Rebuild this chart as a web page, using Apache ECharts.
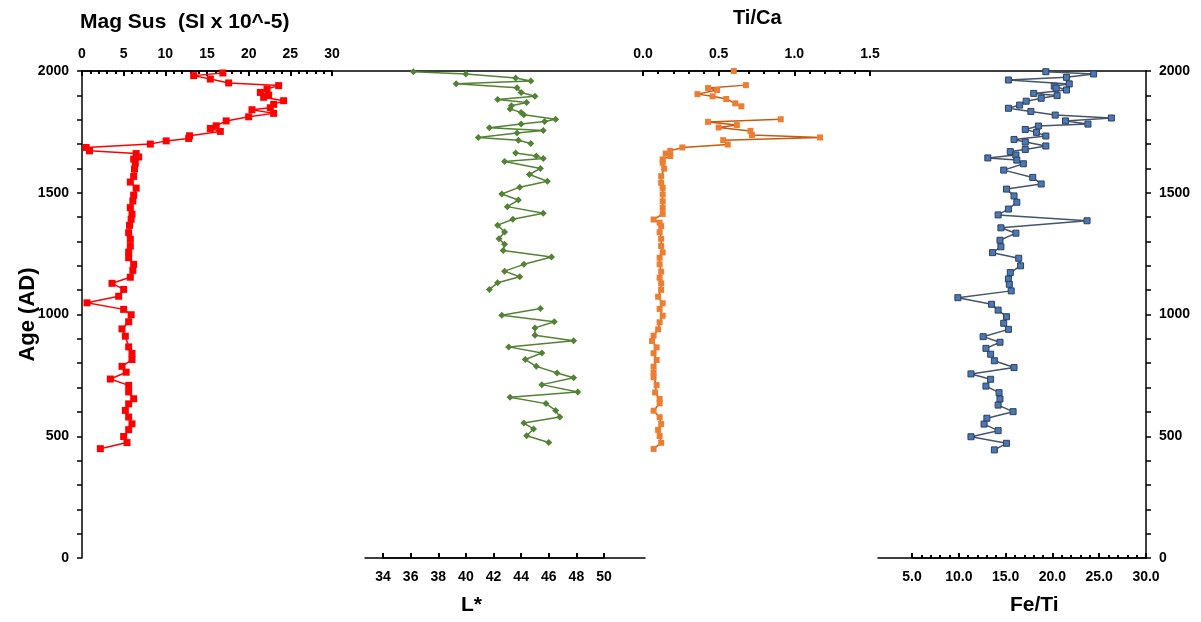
<!DOCTYPE html>
<html>
<head>
<meta charset="utf-8">
<script src="https://cdn.jsdelivr.net/npm/echarts@6/dist/echarts.min.js"></script>
<style>
  html, body { margin: 0; padding: 0; background: #fff; }
  #chart { width: 1201px; height: 622px; }
</style>
</head>
<body>
<div id="chart"></div>
<script>
// Mag Sus (SI x 10^-5) vs age (AD)
const magYear = [1992, 1981, 1967, 1951, 1940, 1926, 1912, 1901, 1892, 1878, 1863, 1849, 1841, 1826, 1812, 1795, 1775, 1764, 1752, 1734, 1723, 1713, 1700, 1686, 1672, 1661, 1647, 1638, 1621, 1597, 1567, 1544, 1519, 1490, 1466, 1439, 1412, 1391, 1366, 1336, 1309, 1281, 1256, 1233, 1206, 1181, 1153, 1128, 1103, 1075, 1048, 1021, 999, 970, 941, 911, 867, 840, 815, 787, 763, 735, 709, 682, 654, 633, 606, 579, 551, 527, 499, 474, 449];
const magValue = [16.9, 13.4, 15.4, 17.6, 23.6, 22.2, 21.4, 22.4, 21.8, 24.2, 23.0, 22.6, 20.4, 23.0, 20.0, 17.3, 16.1, 15.4, 16.6, 12.9, 12.8, 10.1, 8.2, 0.5, 0.9, 6.5, 6.8, 6.2, 6.4, 6.3, 6.2, 5.8, 6.5, 6.2, 6.1, 5.8, 6.0, 5.9, 5.7, 5.6, 5.8, 5.8, 5.6, 5.6, 6.2, 6.1, 5.8, 3.6, 5.0, 4.4, 0.6, 5.0, 5.9, 5.6, 4.8, 5.2, 5.6, 6.0, 6.0, 4.8, 5.3, 3.4, 5.6, 5.6, 6.2, 5.6, 5.2, 5.6, 6.0, 5.6, 5.0, 5.4, 2.2];

// L* (null = gap in the record)
const lYear = [1997, 1988, 1971, 1959, 1948, 1931, 1912, 1896, 1883, 1871, 1857, 1844, 1830, 1820, 1802, 1793, 1782, 1767, 1756, 1745, 1727, 1716, 1702, null,
  1663, 1651, 1641, 1628, 1600, 1575, 1547, 1523, 1495, 1470, 1443, 1416, 1391, 1367, 1339, 1311, 1288, 1263, 1236, 1206, 1178, 1155, 1130, 1103, null,
  1025, 997, 970, 945, 915, 892, 867, 842, 815, 787, 760, 740, 712, 682, 660, 634, 606, 579, 554, 530, 502, 474];
const lValue = [36.2, 40.0, 43.6, 44.7, 39.3, 43.7, 44.0, 45.0, 42.3, 44.4, 43.3, 43.2, 44.0, 44.2, 46.5, 45.7, 44.0, 41.7, 45.6, 43.7, 40.9, 43.8, 44.7, null,
  43.6, 45.1, 45.6, 42.8, 45.4, 44.6, 45.9, 43.9, 42.6, 43.8, 43.0, 45.6, 43.4, 42.3, 42.8, 42.4, 42.8, 42.7, 46.2, 44.2, 42.8, 43.9, 42.3, 41.7, null,
  45.4, 42.6, 46.4, 45.0, 45.0, 47.8, 43.1, 45.5, 44.3, 45.1, 46.6, 47.8, 45.5, 48.1, 43.2, 45.8, 46.5, 46.8, 44.2, 44.9, 44.4, 46.0];

// Ti/Ca
const tiYear = [2000, null, 1942, 1930, 1922, 1905, 1896, 1885, 1867, 1855, null, 1802, 1791, 1778, 1768, 1754, 1737, 1727, 1716, 1698, 1686, 1672, 1661, 1651, 1637, 1623, 1599, 1568, 1541, 1520, 1493, 1465, 1438, 1413, 1390, 1377, 1363, 1338, 1311, 1281, 1255, 1233, 1206, 1176, 1151, 1128, 1101, 1073, 1046, 1023, 995, 968, 939, 913, 891, 865, 841, 813, 786, 761, 742, 710, 680, 653, 635, 605, 578, 550, 526, 501, 473, 448];
const tiValue = [0.60, null, 0.68, 0.43, 0.49, 0.36, 0.46, 0.55, 0.61, 0.65, null, 0.91, 0.43, 0.62, 0.50, 0.71, 0.72, 1.17, 0.53, 0.56, 0.26, 0.18, 0.15, 0.18, 0.13, 0.13, 0.14, 0.12, 0.12, 0.13, 0.13, 0.13, 0.13, 0.13, 0.07, 0.11, 0.12, 0.11, 0.12, 0.12, 0.13, 0.11, 0.11, 0.12, 0.11, 0.12, 0.12, 0.10, 0.13, 0.11, 0.13, 0.11, 0.10, 0.07, 0.06, 0.09, 0.07, 0.09, 0.07, 0.07, 0.07, 0.09, 0.08, 0.11, 0.11, 0.07, 0.11, 0.12, 0.10, 0.11, 0.12, 0.07];

// Fe/Ti
const feYear = [1997, 1988, 1974, 1963, 1947, 1938, 1930, 1922, 1908, 1899, 1888, 1876, 1860, 1847, 1834, 1819, 1807, 1795, 1782, 1774, 1760, 1748, 1733, 1719, 1708, 1692, 1678, 1669, 1655, 1643, 1634, 1619, 1593, 1563, 1536, 1515, 1487, 1461, 1433, 1409, 1385, 1356, 1334, 1305, 1278, 1254, 1231, 1200, 1172, 1146, 1124, 1097, 1069, 1042, 1018, 991, 964, 939, 909, 886, 861, 837, 810, 782, 756, 734, 706, 679, 653, 628, 601, 574, 550, 523, 498, 471, 444];
const feValue = [19.3, 24.4, 21.5, 15.3, 21.8, 20.2, 20.4, 21.5, 18.0, 20.5, 18.8, 17.2, 16.5, 15.3, 17.7, 20.3, 26.3, 21.4, 23.8, 18.5, 17.1, 18.3, 19.3, 15.9, 17.1, 19.3, 17.1, 15.5, 16.1, 13.1, 16.2, 16.9, 14.8, 17.9, 18.8, 15.1, 15.9, 16.2, 15.3, 14.2, 23.7, 14.5, 16.1, 14.4, 14.5, 13.6, 16.4, 16.6, 15.5, 15.3, 15.4, 15.6, 9.9, 13.5, 14.2, 15.1, 14.8, 15.3, 12.6, 14.4, 12.9, 13.4, 13.8, 15.9, 11.3, 13.4, 12.9, 14.3, 14.4, 14.2, 15.8, 13.0, 12.7, 14.2, 11.3, 15.1, 13.8];

const FONT = 'Arial, "Liberation Sans", sans-serif';

function pairs(years, values) {
  return years.map((y, i) => (y == null ? ['-', '-'] : [values[i], y]));
}

const labelStyle = { color: '#000', fontFamily: FONT, fontWeight: 'bold', fontSize: 14 };
const lineStyle = { color: '#000', width: 1.5 };

function hiddenY(gridIndex) {
  return { type: 'value', gridIndex, min: 0, max: 2000, show: false };
}

function plainX(gridIndex, position) {
  return {
    type: 'value', gridIndex, position, min: 0, max: 1,
    axisLine: { show: true, onZero: false, lineStyle },
    axisTick: { show: false }, axisLabel: { show: false }, splitLine: { show: false }
  };
}

function scaleX(gridIndex, position, min, max, interval, minor, decimals, margin) {
  return {
    type: 'value', gridIndex, position, min, max, interval,
    axisLine: { show: true, onZero: false, lineStyle },
    axisTick: { show: true, inside: true, length: 5, lineStyle: { color: '#000', width: 2 } },
    minorTick: { show: minor, splitNumber: 5, length: 3, lineStyle: { color: '#000', width: 2 } },
    axisLabel: Object.assign({ margin, formatter: v => v.toFixed(decimals) }, labelStyle),
    splitLine: { show: false }
  };
}

function ageAxis(position, extra) {
  return Object.assign({
    type: 'value', gridIndex: 0, position, min: 0, max: 2000, interval: 500,
    axisLine: { show: true, lineStyle },
    axisTick: { show: true, length: 5, lineStyle: { color: '#000', width: 1.5 } },
    minorTick: { show: true, splitNumber: 5, length: 5, lineStyle: { color: '#000', width: 1.5 } },
    axisLabel: Object.assign({ margin: 13, formatter: v => String(v) }, labelStyle),
    splitLine: { show: false }
  }, extra);
}

function titleText(text, left, top, size) {
  return { text, left, top, padding: 0, textStyle: { fontFamily: FONT, fontWeight: 'bold', fontSize: size, color: '#000' } };
}

const chart = echarts.init(document.getElementById('chart'));
chart.setOption({
  backgroundColor: '#fff',
  animation: false,
  title: [
    titleText('Mag Sus  (SI x 10^-5)', 80, 12, 21),
    titleText('Ti/Ca', 733, 8, 20),
    titleText('L*', 461, 595, 21),
    titleText('Fe/Ti', 1010, 595, 21)
  ],
  grid: [
    { left: 82, right: 55, top: 71, bottom: 64 },          // frame
    { left: 82, width: 250, top: 71, bottom: 64 },          // Mag Sus
    { left: 383, width: 221, top: 71, bottom: 64 },         // L*
    { left: 365, width: 280, top: 71, bottom: 64 },         // L* axis line
    { left: 643, width: 227, top: 71, bottom: 64 },         // Ti/Ca
    { left: 912, width: 234, top: 71, bottom: 64 },         // Fe/Ti
    { left: 878, right: 55, top: 71, bottom: 64 }           // Fe/Ti axis line
  ],
  xAxis: [
    plainX(0, 'top'),
    scaleX(1, 'top', 0, 30, 5, true, 0, 10),
    scaleX(2, 'bottom', 34, 50, 2, false, 0, 12),
    plainX(3, 'bottom'),
    scaleX(4, 'top', 0, 1.5, 0.5, true, 1, 10),
    scaleX(5, 'bottom', 5, 30, 5, true, 1, 12),
    plainX(6, 'bottom')
  ],
  yAxis: [
    ageAxis('left', {
      name: 'Age (AD)', nameLocation: 'middle', nameGap: 43, nameMoveOverlap: false,
      nameTextStyle: { fontFamily: FONT, fontWeight: 'bold', fontSize: 22, color: '#000' }
    }),
    ageAxis('right', {}),
    hiddenY(1), hiddenY(2), hiddenY(3), hiddenY(4), hiddenY(5), hiddenY(6)
  ],
  series: [
    {
      name: 'Mag Sus', type: 'line', xAxisIndex: 1, yAxisIndex: 2,
      data: pairs(magYear, magValue), clip: false,
      symbol: 'rect', symbolSize: 7,
      lineStyle: { color: '#ff0000', width: 1.5 },
      itemStyle: { color: '#ff0000' }
    },
    {
      name: 'L*', type: 'line', xAxisIndex: 2, yAxisIndex: 3,
      data: pairs(lYear, lValue), clip: false, connectNulls: false,
      symbol: 'diamond', symbolSize: 7,
      lineStyle: { color: '#548235', width: 1.5 },
      itemStyle: { color: '#548235' }
    },
    {
      name: 'Ti/Ca', type: 'line', xAxisIndex: 4, yAxisIndex: 5,
      data: pairs(tiYear, tiValue), clip: false, connectNulls: false,
      symbol: 'rect', symbolSize: 6,
      lineStyle: { color: '#c55a11', width: 1.5 },
      itemStyle: { color: '#ed7d31' }
    },
    {
      name: 'Fe/Ti', type: 'line', xAxisIndex: 5, yAxisIndex: 6,
      data: pairs(feYear, feValue), clip: false,
      symbol: 'rect', symbolSize: 6,
      lineStyle: { color: '#44546a', width: 1.5 },
      itemStyle: { color: '#4a78b5', borderColor: '#2f3f5a', borderWidth: 1 }
    }
  ]
});
</script>
</body>
</html>
